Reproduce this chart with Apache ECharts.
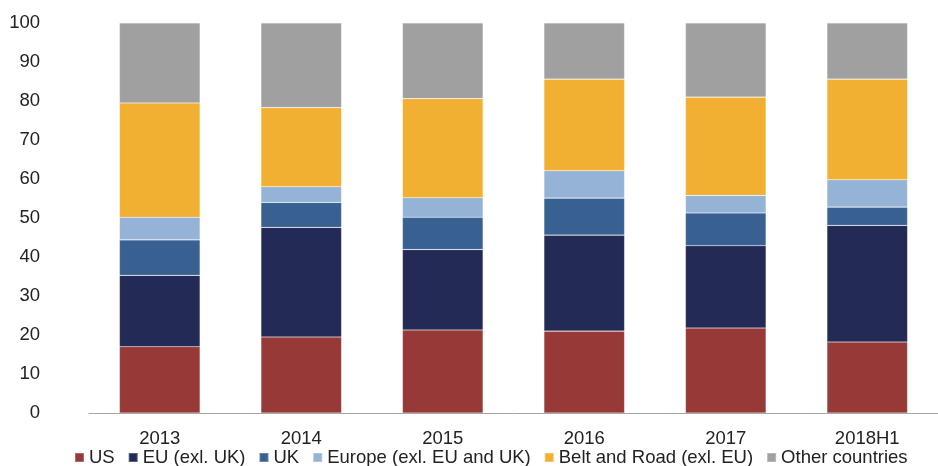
<!DOCTYPE html>
<html>
<head>
<meta charset="utf-8">
<script src="https://cdn.jsdelivr.net/npm/echarts@6/dist/echarts.min.js"></script>
<style>
  html, body { margin: 0; padding: 0; background: #fff; }
  #chart { width: 938px; height: 466px; }
</style>
</head>
<body>
<div id="chart"></div>
<script>
// categories and stacked shares (per cent)
const years = ['2013', '2014', '2015', '2016', '2017', '2018H1']
const seriesNames = ['US', 'EU (exl. UK)', 'UK', 'Europe (exl. EU and UK)', 'Belt and Road (exl. EU)', 'Other countries']
const usData = [17.0, 19.5, 21.3, 21.0, 21.8, 18.2]
const euData = [18.3, 28.1, 20.6, 24.6, 21.1, 29.9]
const ukData = [9.1, 6.4, 8.3, 9.5, 8.4, 4.7]
const europeData = [5.8, 4.0, 5.0, 7.0, 4.5, 7.0]
const beltRoadData = [29.3, 20.3, 25.4, 23.5, 25.2, 25.8]
const otherData = [20.5, 21.7, 19.4, 14.4, 19.0, 14.4]

const colors = ['#963937', '#222a55', '#386192', '#95b3d7', '#f1b031', '#a0a0a0']
const allData = [usData, euData, ukData, europeData, beltRoadData, otherData]

const chart = echarts.init(document.getElementById('chart'))

let series = seriesNames.map((name, i) => {
  return {
    name: name,
    type: 'bar',
    stack: 'total',
    barWidth: '57%',
    data: allData[i],
    itemStyle: {
      color: colors[i],
      borderColor: 'rgba(255,255,255,0.25)',
      borderWidth: 0.6
    }
  }
})

const option = {
  animation: false,
  color: colors,
  textStyle: { fontFamily: 'Liberation Sans, Arial, sans-serif' },
  grid: {
    left: 89,
    right: -12,
    top: 23,
    bottom: 53,
    containLabel: false
  },
  legend: {
    left: 69,
    bottom: -6,
    icon: 'rect',
    itemWidth: 9,
    itemHeight: 9,
    itemGap: 13,
    data: seriesNames,
    textStyle: {
      fontSize: 18.5,
      color: '#222'
    }
  },
  xAxis: {
    type: 'category',
    data: years,
    axisLine: { lineStyle: { color: '#a6a6a6', width: 1 } },
    axisTick: { show: false },
    axisLabel: { fontSize: 18.5, color: '#222', margin: 16 }
  },
  yAxis: {
    type: 'value',
    min: 0,
    max: 100,
    interval: 10,
    axisLine: { show: false },
    axisTick: { show: false },
    splitLine: { show: false },
    axisLabel: { fontSize: 18.5, color: '#222', margin: 49 }
  },
  series: series
}

chart.setOption(option)
</script>
</body>
</html>
